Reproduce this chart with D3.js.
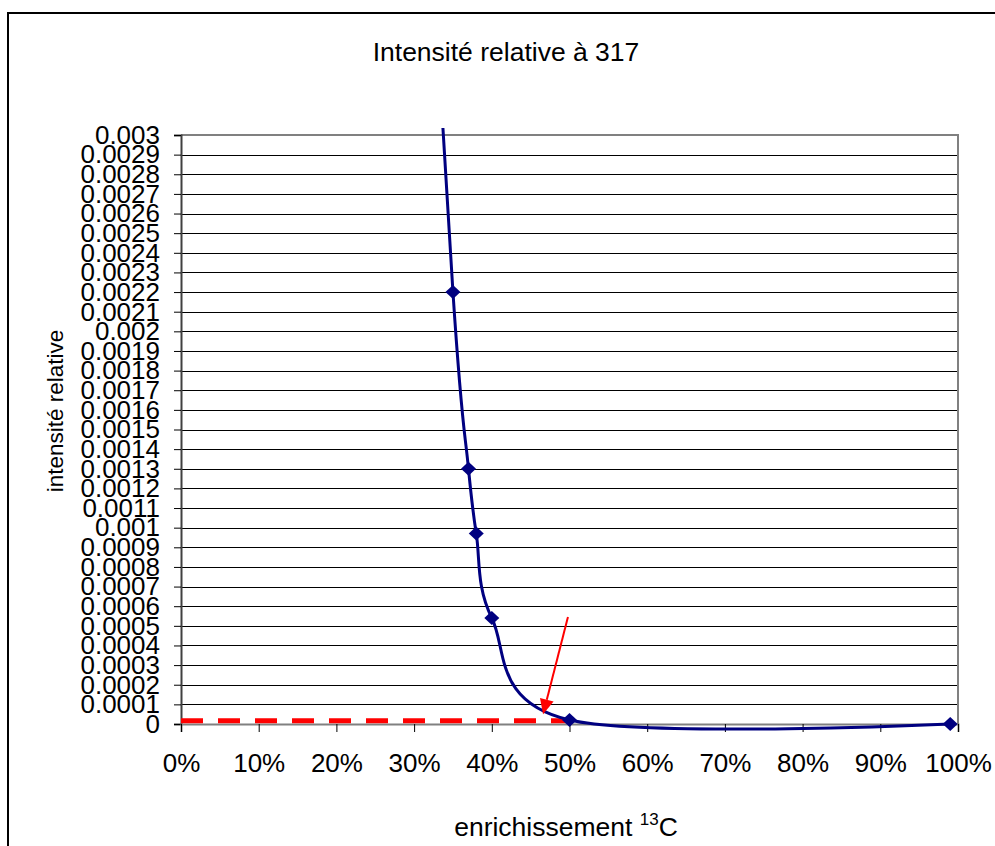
<!DOCTYPE html>
<html>
<head>
<meta charset="utf-8">
<script src="https://cdn.jsdelivr.net/npm/d3@7"></script>
<style>
  body { margin: 0; background: #fff; }
  text { font-family: "Liberation Sans", Arial, sans-serif; fill: #000; }
</style>
</head>
<body>
<div id="chart"></div>
<script>
// data
var enrich    = [0.30, 0.35, 0.37, 0.38, 0.40, 0.50, 0.99];
var intensity = [0.0055, 0.0022, 0.0013, 0.00097, 0.00054, 0.00002, 0];

var xTicks = [0, 0.1, 0.2, 0.3, 0.4, 0.5, 0.6, 0.7, 0.8, 0.9, 1];
var xTickLabels = ["0%", "10%", "20%", "30%", "40%", "50%", "60%", "70%", "80%", "90%", "100%"];
var yTicks = d3.range(0, 31).map(function(i) { return i / 10000; });

// red dashed level and arrow (data coords)
var levelValue = 0.000016, levelFrom = 0, levelTo = 0.5;
var arrowFrom = [0.498, 0.000545], arrowTo = [0.466, 0.00005];

var W = 995, H = 846;
var margin = {top: 135, right: 37, bottom: 122, left: 181},
    width = W - margin.left - margin.right,
    height = H - margin.top - margin.bottom;

var x = d3.scaleLinear().domain([0, 1]).range([0, width]),
    y = d3.scaleLinear().domain([0, 0.003]).range([height, 0]);

var svg = d3.select("#chart").append("svg")
    .attr("width", W)
    .attr("height", H);

// outer chart frame (runs off right and bottom)
svg.append("path")
    .attr("d", "M8," + H + "V13H" + W)
    .attr("fill", "none")
    .attr("stroke", "#000")
    .attr("stroke-width", 2);

svg.append("text")
    .attr("x", 506)
    .attr("y", 61)
    .attr("text-anchor", "middle")
    .style("font-size", "26.5px")
    .text("Intensité relative à 317");

var g = svg.append("g")
    .attr("transform", "translate(" + margin.left + "," + margin.top + ")");

// horizontal gridlines
g.selectAll(".grid")
  .data(yTicks)
  .enter()
    .append("line")
      .attr("class", "grid")
      .attr("x1", 0)
      .attr("x2", width)
      .attr("y1", function(d) { return Math.round(y(d)) + 0.5; })
      .attr("y2", function(d) { return Math.round(y(d)) + 0.5; })
      .attr("stroke", "#000")
      .attr("stroke-width", 1);

// plot border top + right
g.append("path")
    .attr("d", "M0,0H" + width + "V" + height)
    .attr("fill", "none")
    .attr("stroke", "#808080")
    .attr("stroke-width", 2);

// y axis
var yAxis = d3.axisLeft(y).tickValues(yTicks).tickSize(7).tickPadding(14)
    .tickFormat(function(d) { return String(+d.toFixed(4)); });
var ya = g.append("g").call(yAxis);
ya.select(".domain").attr("stroke", "#404040").attr("stroke-width", 2);
ya.selectAll(".tick line").attr("stroke", "#000");
ya.selectAll("text").style("font-size", "26px").style("font-family", "Liberation Sans, Arial, sans-serif");

// x axis
var xAxis = d3.axisBottom(x).tickValues(xTicks).tickSize(8).tickPadding(22)
    .tickFormat(function(d, i) { return xTickLabels[i]; });
var xa = g.append("g")
    .attr("transform", "translate(0," + height + ")")
    .call(xAxis);
xa.select(".domain").attr("stroke", "#808080").attr("stroke-width", 2);
xa.selectAll(".tick line").attr("stroke", "#000");
xa.selectAll("text").style("font-size", "26px").style("font-family", "Liberation Sans, Arial, sans-serif");

// axis titles
svg.append("text")
    .attr("transform", "translate(63,411) rotate(-90)")
    .attr("text-anchor", "middle")
    .style("font-size", "22.5px")
    .text("intensité relative");

var xt = svg.append("text")
    .attr("x", 566)
    .attr("y", 836)
    .attr("text-anchor", "middle")
    .style("font-size", "26.5px");
xt.append("tspan").text("enrichissement ");
xt.append("tspan").attr("dy", -11).style("font-size", "17px").text("13");
xt.append("tspan").attr("dy", 11).text("C");

// red dashed level
g.append("line")
    .attr("x1", x(levelFrom))
    .attr("x2", x(levelTo))
    .attr("y1", y(levelValue))
    .attr("y2", y(levelValue))
    .attr("stroke", "#ff0000")
    .attr("stroke-width", 5)
    .attr("stroke-dasharray", "22,15");

// clip so the steep part stops just above the plot
g.append("clipPath")
    .attr("id", "clip")
  .append("rect")
    .attr("x", 0)
    .attr("y", -7)
    .attr("width", width + 10)
    .attr("height", height + 20);

var pts = enrich.map(function(e, i) { return [e, intensity[i]]; });

var line = d3.line()
    .curve(d3.curveCardinal.tension(0))
    .x(function(d) { return x(d[0]); })
    .y(function(d) { return y(d[1]); });

g.append("path")
    .datum(pts)
    .attr("clip-path", "url(#clip)")
    .attr("fill", "none")
    .attr("stroke", "#000080")
    .attr("stroke-width", 3)
    .attr("d", line);

g.selectAll(".pt")
  .data(pts.filter(function(d) { return d[1] <= 0.003; }))
  .enter()
    .append("path")
      .attr("class", "pt")
      .attr("transform", function(d) { return "translate(" + x(d[0]) + "," + y(d[1]) + ")"; })
      .attr("d", "M0,-7L7.5,0L0,7L-7.5,0Z")
      .attr("fill", "#000080");

// red arrow
var ax0 = x(arrowFrom[0]), ay0 = y(arrowFrom[1]),
    ax1 = x(arrowTo[0]), ay1 = y(arrowTo[1]);
var ang = Math.atan2(ay1 - ay0, ax1 - ax0);
var headLen = 15, headW = 7;
var bx = ax1 - headLen * Math.cos(ang), by = ay1 - headLen * Math.sin(ang);
g.append("line")
    .attr("x1", ax0).attr("y1", ay0)
    .attr("x2", bx).attr("y2", by)
    .attr("stroke", "#ff0000")
    .attr("stroke-width", 2);
g.append("path")
    .attr("d", "M" + ax1 + "," + ay1 +
      "L" + (bx + headW * Math.sin(ang)) + "," + (by - headW * Math.cos(ang)) +
      "L" + (bx - headW * Math.sin(ang)) + "," + (by + headW * Math.cos(ang)) + "Z")
    .attr("fill", "#ff0000");
</script>
</body>
</html>
